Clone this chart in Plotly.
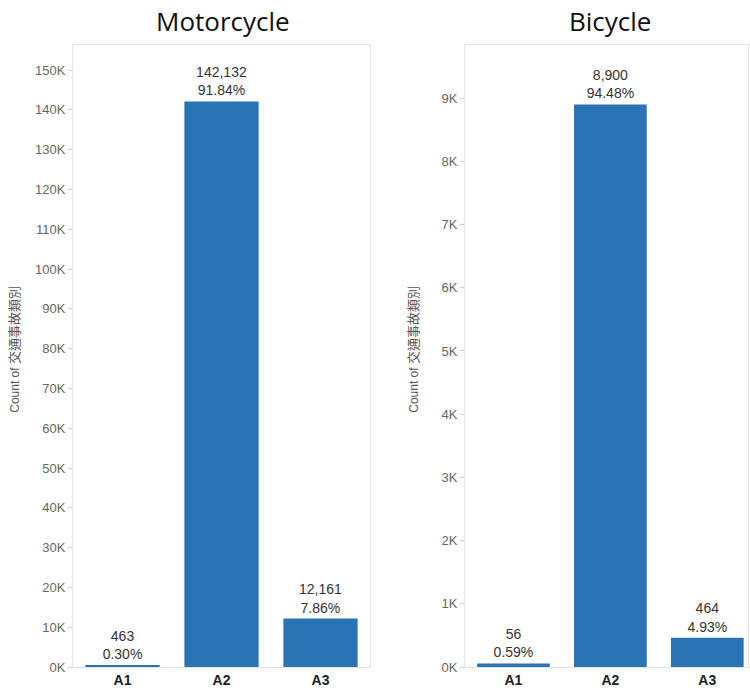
import plotly.graph_objects as go

# Accident category counts per vehicle type
categories = ["A1", "A2", "A3"]
motorcycle_counts = [463, 142132, 12161]
bicycle_counts = [56, 8900, 464]

motorcycle_ticks = [i * 10000 for i in range(16)]
bicycle_ticks = [i * 1000 for i in range(10)]

BAR_COLOR = "#2a73b4"
AXIS_GRAY = "#e3e3e3"
TICK_FONT = dict(family="Liberation Sans, Arial, sans-serif", size=13, color="#666666")
LABEL_FONT = dict(family="Liberation Sans, Arial, sans-serif", size=14, color="#333333")


def labels(counts):
    total = sum(counts)
    return [f"{c:,}<br>{c / total * 100:.2f}%" for c in counts]


fig = go.Figure()

fig.add_trace(go.Bar(
    x=categories, y=motorcycle_counts, xaxis="x", yaxis="y",
    marker=dict(color=BAR_COLOR, line=dict(width=0)),
    text=labels(motorcycle_counts), textposition="outside", cliponaxis=False,
    textfont=LABEL_FONT, showlegend=False,
))
fig.add_trace(go.Bar(
    x=categories, y=bicycle_counts, xaxis="x2", yaxis="y2",
    marker=dict(color=BAR_COLOR, line=dict(width=0)),
    text=labels(bicycle_counts), textposition="outside", cliponaxis=False,
    textfont=LABEL_FONT, showlegend=False,
))

xaxis_common = dict(
    showgrid=False, zeroline=False, showline=True, linecolor=AXIS_GRAY, linewidth=1,
    mirror=True, ticks="", fixedrange=True,
    tickfont=dict(family="Liberation Sans, Arial, sans-serif", size=14, color="#222222"),
)
yaxis_common = dict(
    showgrid=False, zeroline=False, showline=True, linecolor=AXIS_GRAY, linewidth=1,
    mirror=True, ticks="outside", ticklen=4, tickcolor="#d0d0d0",
    tickfont=TICK_FONT, fixedrange=True,
)

fig.update_layout(
    width=750, height=694,
    margin=dict(l=0, r=0, t=45, b=27),
    paper_bgcolor="white", plot_bgcolor="white",
    bargap=0.25,
    xaxis=dict(domain=[73 / 750, 370 / 750], range=[-0.5, 2.5],
               tickvals=[0, 1, 2], ticktext=[f"<b>{c}</b>" for c in categories],
               anchor="y", **xaxis_common),
    yaxis=dict(range=[0, 156300], tickvals=motorcycle_ticks,
               ticktext=[f"{v // 1000}K" for v in motorcycle_ticks],
               anchor="x", **yaxis_common),
    xaxis2=dict(domain=[465 / 750, 748 / 750], range=[-0.5, 2.42],
                tickvals=[0, 1, 2], ticktext=[f"<b>{c}</b>" for c in categories],
                anchor="y2", **xaxis_common),
    yaxis2=dict(range=[0, 9840], tickvals=bicycle_ticks,
                ticktext=[f"{v // 1000}K" for v in bicycle_ticks],
                anchor="x2", **yaxis_common),
)

title_font = dict(family="Open Sans, sans-serif", size=26, color="#111111")
axis_title_font = dict(family="Liberation Sans, Noto Sans CJK TC, sans-serif", size=12, color="#555555")

# Panel titles, placed just above each plot area
for name, xpx in (("Motorcycle", 223), ("Bicycle", 610)):
    fig.add_annotation(text=name, x=xpx / 750, y=1 + 24 / 622,
                       xref="paper", yref="paper", showarrow=False, font=title_font,
                       xanchor="center", yanchor="middle")

# Vertical y-axis titles for both panels
for xpx in (15, 414):
    fig.add_annotation(text='Count of <span style="font-size:13px">交通事故類別</span>',
                       textangle=-90, x=xpx / 750, y=0.51, xref="paper", yref="paper",
                       showarrow=False, font=axis_title_font,
                       xanchor="center", yanchor="middle")

fig.write_html("out.html")
